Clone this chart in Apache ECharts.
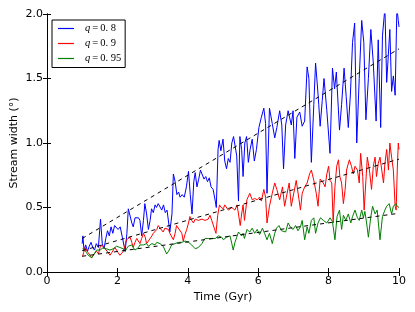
<!DOCTYPE html>
<html><head><meta charset="utf-8">
<script src="https://cdn.jsdelivr.net/npm/echarts@6/dist/echarts.min.js"></script>
<style>html,body{margin:0;padding:0;background:#fff}#c{width:415px;height:312px}</style>
</head><body><div id="c"></div>
<script>
var xTicks = [0, 2, 4, 6, 8, 10];
var yTicks = [0.0, 0.5, 1.0, 1.5, 2.0];
var seriesNames = ['q=0.8', 'q=0.9', 'q=0.95'];
var legendLabels = ['0.8', '0.9', '0.95'];

var blueData = [[1.00,0.22],[1.02,0.28],[1.05,0.17],[1.10,0.21],[1.15,0.16],[1.20,0.20],[1.25,0.23],[1.30,0.19],[1.35,0.17],[1.40,0.22],[1.46,0.19],[1.52,0.41],[1.57,0.22],[1.62,0.18],[1.67,0.26],[1.72,0.32],[1.77,0.28],[1.82,0.35],[1.87,0.30],[1.92,0.36],[1.97,0.37],[2.02,0.33],[2.08,0.35],[2.14,0.27],[2.22,0.16],[2.27,0.30],[2.31,0.49],[2.36,0.48],[2.41,0.38],[2.45,0.35],[2.50,0.42],[2.55,0.43],[2.60,0.42],[2.64,0.40],[2.69,0.28],[2.74,0.40],[2.78,0.53],[2.83,0.45],[2.88,0.33],[2.93,0.40],[2.97,0.49],[3.02,0.46],[3.07,0.52],[3.11,0.50],[3.16,0.53],[3.21,0.53],[3.26,0.48],[3.31,0.52],[3.36,0.46],[3.41,0.48],[3.49,0.31],[3.55,0.45],[3.59,0.76],[3.64,0.70],[3.69,0.60],[3.74,0.62],[3.78,0.58],[3.84,0.60],[3.90,0.58],[3.96,0.66],[4.02,0.78],[4.07,0.60],[4.12,0.45],[4.17,0.70],[4.21,0.77],[4.26,0.66],[4.31,0.72],[4.36,0.79],[4.41,0.78],[4.46,0.72],[4.51,0.74],[4.56,0.70],[4.61,0.73],[4.66,0.66],[4.72,0.64],[4.78,0.55],[4.81,0.50],[4.86,0.95],[4.89,1.02],[4.94,0.94],[5.00,1.03],[5.05,0.86],[5.10,0.80],[5.15,0.88],[5.20,0.85],[5.25,1.00],[5.30,1.05],[5.34,1.06],[5.39,0.90],[5.44,0.55],[5.48,1.05],[5.53,0.95],[5.57,0.74],[5.62,1.00],[5.67,1.05],[5.72,0.85],[5.77,0.95],[5.83,1.03],[5.89,0.86],[5.95,0.95],[6.02,1.12],[6.09,1.20],[6.16,1.27],[6.21,1.15],[6.25,0.61],[6.32,1.27],[6.40,1.15],[6.47,1.04],[6.53,1.12],[6.61,1.25],[6.67,1.14],[6.72,0.80],[6.78,1.14],[6.85,1.25],[6.94,1.14],[6.99,1.25],[7.04,0.88],[7.10,1.20],[7.18,1.24],[7.25,1.13],[7.32,1.17],[7.39,1.59],[7.44,1.50],[7.51,0.85],[7.58,1.30],[7.63,1.62],[7.68,1.45],[7.72,1.30],[7.76,1.13],[7.82,1.33],[7.87,1.50],[7.95,1.25],[8.04,0.92],[8.11,1.58],[8.17,1.42],[8.22,1.55],[8.31,1.10],[8.37,1.30],[8.44,1.58],[8.50,1.36],[8.56,1.12],[8.62,1.38],[8.68,1.78],[8.74,1.93],[8.80,1.00],[8.87,1.50],[8.94,1.95],[9.00,1.78],[9.06,1.18],[9.13,1.50],[9.20,1.88],[9.27,1.62],[9.35,1.17],[9.41,1.80],[9.48,1.12],[9.53,1.83],[9.60,2.05],[9.65,1.47],[9.69,1.65],[9.74,1.88],[9.79,1.40],[9.84,1.52],[9.89,1.37],[9.94,2.05],[9.98,1.95],[10.0,1.90]];

var redData = [[1.01,0.12],[1.04,0.15],[1.08,0.19],[1.12,0.17],[1.17,0.15],[1.22,0.13],[1.27,0.11],[1.34,0.14],[1.41,0.16],[1.46,0.14],[1.51,0.19],[1.55,0.21],[1.60,0.20],[1.65,0.18],[1.69,0.17],[1.74,0.15],[1.79,0.13],[1.84,0.15],[1.88,0.16],[1.93,0.19],[1.98,0.18],[2.02,0.15],[2.07,0.13],[2.12,0.14],[2.17,0.16],[2.22,0.21],[2.26,0.25],[2.31,0.24],[2.36,0.27],[2.41,0.23],[2.45,0.19],[2.50,0.23],[2.55,0.26],[2.60,0.25],[2.64,0.22],[2.69,0.26],[2.74,0.30],[2.79,0.27],[2.83,0.22],[2.88,0.24],[2.93,0.25],[2.98,0.28],[3.02,0.30],[3.07,0.29],[3.12,0.33],[3.16,0.36],[3.21,0.34],[3.26,0.33],[3.30,0.31],[3.35,0.34],[3.40,0.35],[3.45,0.33],[3.49,0.30],[3.54,0.31],[3.59,0.25],[3.64,0.30],[3.68,0.36],[3.73,0.34],[3.78,0.33],[3.83,0.30],[3.87,0.24],[3.92,0.29],[3.97,0.33],[4.02,0.38],[4.06,0.43],[4.11,0.40],[4.16,0.38],[4.21,0.41],[4.25,0.42],[4.30,0.40],[4.35,0.39],[4.40,0.41],[4.44,0.42],[4.49,0.40],[4.54,0.39],[4.58,0.41],[4.63,0.44],[4.68,0.40],[4.73,0.39],[4.80,0.30],[4.85,0.44],[4.90,0.52],[4.95,0.50],[5.01,0.49],[5.05,0.52],[5.10,0.51],[5.15,0.48],[5.20,0.48],[5.25,0.50],[5.29,0.51],[5.34,0.48],[5.40,0.52],[5.44,0.53],[5.49,0.36],[5.53,0.45],[5.57,0.52],[5.61,0.40],[5.68,0.56],[5.76,0.61],[5.83,0.56],[5.90,0.57],[5.97,0.56],[6.04,0.58],[6.09,0.55],[6.16,0.64],[6.21,0.58],[6.25,0.38],[6.32,0.51],[6.40,0.61],[6.47,0.69],[6.53,0.64],[6.61,0.56],[6.69,0.66],[6.75,0.51],[6.80,0.58],[6.88,0.69],[6.94,0.51],[7.01,0.61],[7.08,0.71],[7.16,0.56],[7.20,0.48],[7.25,0.61],[7.32,0.66],[7.39,0.69],[7.46,0.76],[7.51,0.79],[7.58,0.71],[7.65,0.61],[7.70,0.51],[7.76,0.72],[7.80,0.71],[7.85,0.69],[7.90,0.66],[7.95,0.76],[8.00,0.82],[8.04,0.71],[8.09,0.69],[8.13,0.38],[8.18,0.66],[8.23,0.82],[8.28,0.87],[8.32,0.74],[8.37,0.69],[8.42,0.53],[8.47,0.64],[8.51,0.79],[8.59,0.87],[8.65,0.82],[8.70,0.76],[8.75,0.82],[8.82,0.79],[8.87,0.69],[8.91,0.92],[8.97,0.74],[9.01,0.48],[9.06,0.71],[9.10,0.89],[9.16,0.79],[9.22,0.64],[9.27,0.82],[9.32,0.89],[9.36,0.74],[9.41,0.84],[9.46,0.89],[9.51,0.79],[9.56,0.69],[9.60,0.84],[9.65,0.95],[9.70,0.79],[9.74,1.00],[9.79,0.89],[9.84,0.79],[9.89,0.51],[9.92,0.48],[9.95,0.79],[9.98,1.00],[10.0,0.95]];

var greenData = [[1.01,0.18],[1.05,0.17],[1.08,0.17],[1.12,0.15],[1.17,0.13],[1.22,0.12],[1.27,0.11],[1.31,0.12],[1.36,0.15],[1.41,0.17],[1.46,0.18],[1.51,0.17],[1.55,0.17],[1.60,0.19],[1.65,0.20],[1.69,0.18],[1.74,0.18],[1.79,0.17],[1.84,0.16],[1.88,0.18],[1.93,0.18],[1.98,0.20],[2.03,0.21],[2.07,0.19],[2.12,0.20],[2.17,0.18],[2.22,0.16],[2.26,0.18],[2.31,0.20],[2.36,0.19],[2.41,0.21],[2.45,0.19],[2.50,0.17],[2.55,0.16],[2.60,0.19],[2.64,0.21],[2.69,0.20],[2.74,0.21],[2.79,0.22],[2.83,0.22],[2.88,0.20],[2.93,0.20],[2.98,0.22],[3.02,0.22],[3.07,0.21],[3.12,0.23],[3.16,0.22],[3.21,0.22],[3.26,0.21],[3.30,0.20],[3.35,0.17],[3.40,0.14],[3.45,0.16],[3.49,0.18],[3.54,0.21],[3.59,0.22],[3.64,0.22],[3.68,0.22],[3.73,0.23],[3.78,0.24],[3.83,0.23],[3.87,0.22],[3.92,0.24],[3.97,0.24],[4.02,0.23],[4.06,0.22],[4.11,0.21],[4.16,0.20],[4.21,0.18],[4.25,0.17],[4.30,0.19],[4.35,0.20],[4.40,0.22],[4.44,0.24],[4.49,0.26],[4.54,0.27],[4.58,0.26],[4.63,0.25],[4.68,0.26],[4.73,0.27],[4.78,0.26],[4.82,0.26],[4.87,0.28],[4.92,0.29],[4.96,0.27],[5.01,0.25],[5.05,0.26],[5.10,0.27],[5.15,0.28],[5.20,0.28],[5.25,0.22],[5.29,0.17],[5.34,0.23],[5.39,0.27],[5.44,0.31],[5.48,0.30],[5.53,0.28],[5.57,0.30],[5.61,0.26],[5.68,0.33],[5.76,0.31],[5.83,0.34],[5.90,0.30],[5.97,0.33],[6.04,0.29],[6.12,0.34],[6.18,0.30],[6.25,0.25],[6.32,0.30],[6.40,0.22],[6.47,0.30],[6.52,0.34],[6.59,0.36],[6.66,0.32],[6.71,0.33],[6.78,0.31],[6.85,0.38],[6.91,0.35],[6.99,0.33],[7.06,0.36],[7.13,0.32],[7.20,0.35],[7.25,0.40],[7.32,0.25],[7.39,0.35],[7.44,0.30],[7.51,0.40],[7.58,0.42],[7.63,0.30],[7.70,0.38],[7.77,0.42],[7.85,0.40],[7.95,0.38],[8.04,0.42],[8.11,0.39],[8.18,0.25],[8.24,0.43],[8.31,0.48],[8.37,0.33],[8.42,0.44],[8.49,0.40],[8.56,0.45],[8.63,0.38],[8.68,0.43],[8.75,0.48],[8.82,0.42],[8.87,0.40],[8.94,0.48],[8.99,0.42],[9.03,0.47],[9.08,0.38],[9.13,0.27],[9.20,0.43],[9.25,0.51],[9.32,0.45],[9.38,0.48],[9.46,0.25],[9.53,0.43],[9.60,0.48],[9.65,0.51],[9.72,0.53],[9.79,0.45],[9.84,0.51],[9.91,0.53],[9.95,0.51],[10.0,0.50]];

var blueTrend = [[1, 0.26], [10, 1.73]];
var redTrend = [[1, 0.165], [10, 0.875]];
var greenTrend = [[1, 0.122], [10, 0.455]];

var colors = ['#0000ff', '#ff0000', '#008000'];
var font = 'DejaVu Sans';
var serif = 'Liberation Serif';

function lineSeries(name, data, color) {
  return { name: name, type: 'line', data: data, showSymbol: false, symbol: 'none',
    lineStyle: { color: color, width: 1 }, itemStyle: { color: color }, z: 2, clip: true };
}
function trendSeries(data) {
  return { type: 'line', data: data, showSymbol: false, symbol: 'none', silent: true,
    lineStyle: { color: '#000', width: 1, type: [4, 4] }, z: 3 };
}

var chart = echarts.init(document.getElementById('c'), null, { renderer: 'canvas' });
var labelMap = {};
seriesNames.forEach(function (n, i) { labelMap[n] = legendLabels[i]; });

var axisCommon = {
  type: 'value',
  axisLine: { show: true, lineStyle: { color: '#000', width: 1 } },
  axisTick: { show: true, inside: true, length: 4, lineStyle: { color: '#000' } },
  splitLine: { show: false }
};

function fmtNum(s) { return s.replace('.', '. '); }

chart.setOption({
  animation: false,
  backgroundColor: '#fff',
  grid: { left: 47, right: 16, top: 14, bottom: 40, show: false, containLabel: false, outerBoundsMode: 'none' },
  legend: {
    data: seriesNames,
    orient: 'vertical',
    left: 52, top: 20,
    padding: [2.5, 4, 3, 6],
    itemGap: 3,
    itemWidth: 16, itemHeight: 1.2,
    icon: 'rect',
    borderColor: '#000', borderWidth: 1,
    backgroundColor: '#fff',
    formatter: function (name) { return '{q|q}{e|=}{v|' + fmtNum(labelMap[name]) + '}'; },
    textStyle: {
      color: '#000', fontFamily: serif, fontSize: 10.5, lineHeight: 12,
      rich: {
        q: { fontFamily: serif, fontStyle: 'italic', fontSize: 10.5, padding: [0, 0, 0, 6], color: '#000' },
        e: { fontFamily: serif, fontSize: 10.5, padding: [0, 2, 0, 2], color: '#000' },
        v: { fontFamily: serif, fontSize: 10.5, color: '#000' }
      }
    }
  },
  xAxis: [
    Object.assign({}, axisCommon, {
      min: xTicks[0], max: xTicks[xTicks.length - 1], interval: 2, position: 'bottom',
      name: 'Time (Gyr)', nameLocation: 'middle', nameGap: 20, nameMoveOverlap: false,
      nameTextStyle: { fontFamily: font, fontSize: 11, color: '#000' },
      axisLabel: { fontFamily: font, fontSize: 11, color: '#000', margin: 4 }
    }),
    Object.assign({}, axisCommon, {
      min: xTicks[0], max: xTicks[xTicks.length - 1], interval: 2, position: 'top',
      axisLabel: { show: false }
    })
  ],
  yAxis: [
    Object.assign({}, axisCommon, {
      min: yTicks[0], max: yTicks[yTicks.length - 1], interval: 0.5, position: 'left',
      name: 'Stream width (\u00b0)', nameLocation: 'middle', nameGap: 27, nameRotate: 90, nameMoveOverlap: false,
      nameTextStyle: { fontFamily: font, fontSize: 11, color: '#000' },
      axisLabel: { fontFamily: font, fontSize: 11, color: '#000', margin: 4,
        formatter: function (v) { return v.toFixed(1); } }
    }),
    Object.assign({}, axisCommon, {
      min: yTicks[0], max: yTicks[yTicks.length - 1], interval: 0.5, position: 'right',
      axisLabel: { show: false }
    })
  ],
  series: [
    lineSeries(seriesNames[0], blueData, colors[0]),
    lineSeries(seriesNames[1], redData, colors[1]),
    lineSeries(seriesNames[2], greenData, colors[2]),
    trendSeries(blueTrend),
    trendSeries(redTrend),
    trendSeries(greenTrend)
  ]
});
</script>
</body></html>
